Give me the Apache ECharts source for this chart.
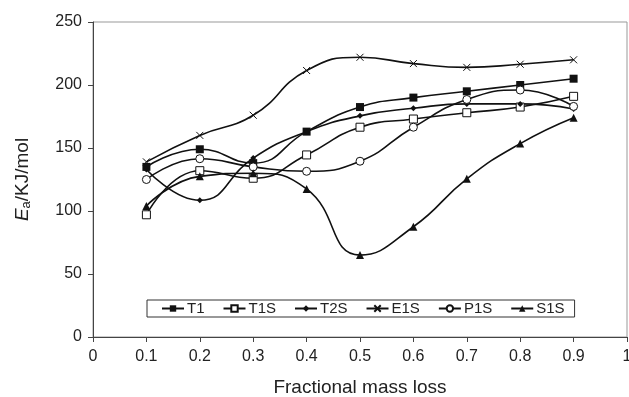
<!DOCTYPE html>
<html>
<head>
<meta charset="utf-8">
<script src="https://cdn.jsdelivr.net/npm/echarts@6/dist/echarts.min.js"></script>
<style>html,body{margin:0;padding:0;background:#fff}#c{width:629px;height:397px}</style>
</head>
<body>
<div id="c"></div>
<script>
var xValues = [0.1, 0.2, 0.3, 0.4, 0.5, 0.6, 0.7, 0.8, 0.9];
var T1  = [135, 149, 138, 163, 182.5, 190, 195, 200, 205];
var T1S = [97, 132, 126, 144.5, 166.5, 173, 178, 182.5, 191];
var T2S = [133, 108.5, 142, 163, 175.5, 181.5, 185, 185, 181];
var E1S = [139, 160, 176, 211.5, 222, 217, 214, 216.5, 220];
var P1S = [125, 141.5, 135, 131.5, 139.5, 166.5, 188.5, 196, 183];
var S1S = [104, 127.5, 130, 117.5, 65, 87.5, 125.5, 153.5, 174];
var seriesNames = ['T1', 'T1S', 'T2S', 'E1S', 'P1S', 'S1S'];
var xTicks = [0, 0.1, 0.2, 0.3, 0.4, 0.5, 0.6, 0.7, 0.8, 0.9, 1];
var yTicks = [0, 50, 100, 150, 200, 250];

function pts(arr) { return xValues.map(function (x, i) { return [x, arr[i]]; }); }

var font = 'Liberation Sans, Arial, sans-serif';
var styles = {
  T1:  { symbol: 'rect', size: 8, fill: '#111', bw: 0 },
  T1S: { symbol: 'rect', size: 8, fill: '#fff', bw: 1 },
  T2S: { symbol: 'diamond', size: 6, fill: '#111', bw: 0 },
  E1S: { symbol: 'path://M0,0L10,10M10,0L0,10', size: 7, fill: 'none', bw: 1 },
  P1S: { symbol: 'circle', size: 8, fill: '#fff', bw: 1 },
  S1S: { symbol: 'triangle', size: 8, fill: '#111', bw: 0 }
};
var dataMap = { T1: T1, T1S: T1S, T2S: T2S, E1S: E1S, P1S: P1S, S1S: S1S };

var series = seriesNames.map(function (n) {
  var s = styles[n];
  return {
    name: n, type: 'line', smooth: 0.5, data: pts(dataMap[n]),
    symbol: s.symbol, symbolSize: s.size, showSymbol: true,
    lineStyle: { color: '#111', width: 1.6 },
    itemStyle: { color: s.fill, borderColor: '#111', borderWidth: s.bw },
    emphasis: { disabled: true }, z: 3
  };
});

var chart = echarts.init(document.getElementById('c'), null, { renderer: 'canvas' });
chart.setOption({
  animation: false,
  backgroundColor: '#fff',
  grid: { left: 93, right: 2, top: 22, bottom: 60, show: true, borderColor: '#999', borderWidth: 1,
          containLabel: false, outerBoundsMode: 'none' },
  legend: {
    data: seriesNames, left: 147, top: 300,
    itemWidth: 22, itemHeight: 8, itemGap: 18,
    padding: [1, 10, 1, 14],
    borderColor: '#333', borderWidth: 1, backgroundColor: '#fff',
    textStyle: { fontFamily: font, fontSize: 15, color: '#222', padding: [0, 0, 0, -2] }
  },
  xAxis: {
    type: 'value', min: 0, max: 1, interval: 0.1,
    name: 'Fractional mass loss', nameLocation: 'middle', nameGap: 41,
    nameTextStyle: { fontFamily: font, fontSize: 19, color: '#222' },
    axisLine: { lineStyle: { color: '#444', width: 1 } },
    axisTick: { show: true, length: 5, lineStyle: { color: '#444' } },
    splitLine: { show: false },
    axisLabel: { fontFamily: font, fontSize: 16, color: '#222', margin: 12,
      formatter: function (v) { var t = xTicks.filter(function (k) { return Math.abs(k - v) < 1e-6; })[0]; return t === undefined ? '' : String(t); } }
  },
  yAxis: {
    type: 'value', min: 0, max: 250, interval: 50,
    name: '{e|E}{s|a}{t|/KJ/mol}', nameLocation: 'middle', nameGap: 60, nameRotate: 90,
    nameTextStyle: { fontFamily: font, fontSize: 18, color: '#222',
      rich: {
        e: { fontFamily: font, fontSize: 19, fontStyle: 'italic', color: '#222' },
        s: { fontFamily: font, fontSize: 13, color: '#222', verticalAlign: 'bottom', padding: [7, 0, 0, 0] },
        t: { fontFamily: font, fontSize: 19, color: '#222' }
      } },
    axisLine: { show: true, lineStyle: { color: '#444', width: 1 } },
    axisTick: { show: true, length: 5, lineStyle: { color: '#444' } },
    splitLine: { show: false },
    axisLabel: { fontFamily: font, fontSize: 16, color: '#222', margin: 11,
      formatter: function (v) { return yTicks.indexOf(v) >= 0 ? String(v) : ''; } }
  },
  series: series
});
</script>
</body>
</html>
